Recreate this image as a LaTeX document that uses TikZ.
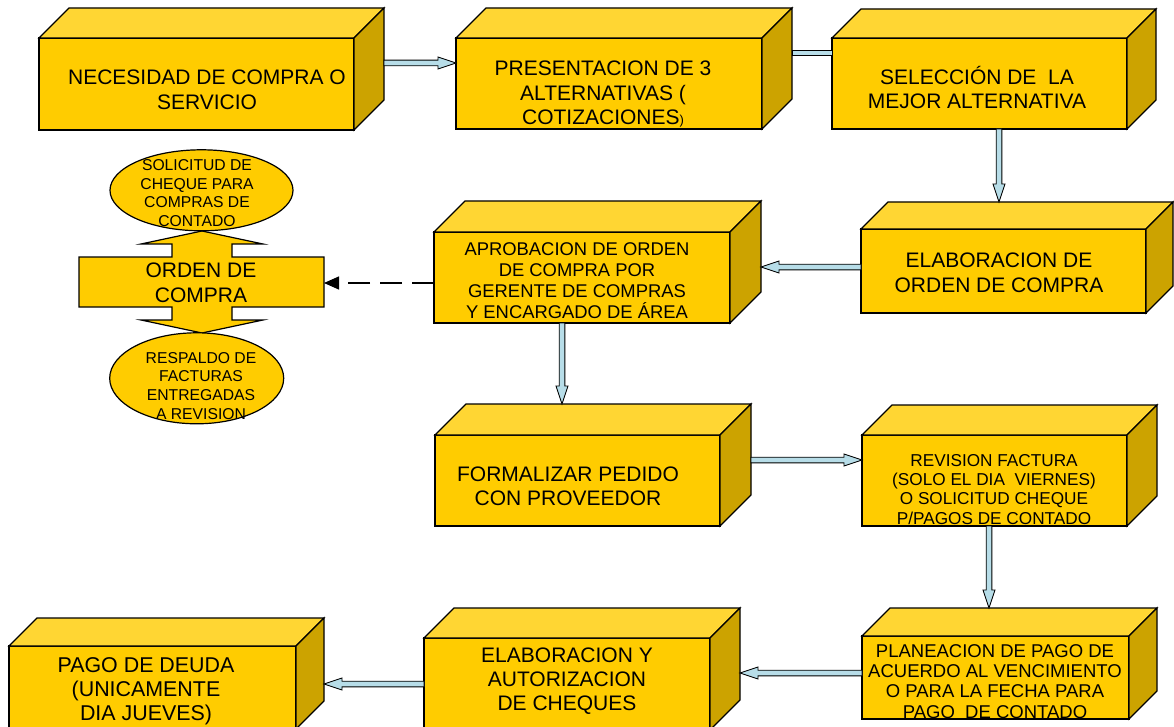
\documentclass[tikz,border=0pt]{standalone}
\usepackage{fontspec}
\setmainfont{Liberation Sans}
\usetikzlibrary{calc,arrows.meta,shapes.geometric}
\definecolor{gold}{HTML}{FFCC00}
\definecolor{goldtop}{HTML}{FFD633}
\definecolor{goldside}{HTML}{CCA300}
\definecolor{pipeblue}{HTML}{B7DDE8}
\tikzset{
  frontface/.style={draw=black, line width=1.2pt, fill=gold, inner sep=0pt, outer sep=0pt, line join=miter},
  topface/.style={draw=black, line width=1.2pt, fill=goldtop, line join=miter},
  sideface/.style={draw=black, line width=1.2pt, fill=goldside, line join=miter},
  lbl/.style={anchor=base, inner sep=0pt, outer sep=0pt},
  pipe/.style={draw=black, line width=0.9pt, fill=pipeblue, line join=miter},
  dashline/.style={draw=black, line width=1.3pt, dash pattern=on 22pt off 10pt, -{Triangle[length=15pt,width=13pt]}},
  ovalnode/.style={ellipse, draw=black, line width=1.2pt, fill=gold, inner sep=0pt, outer sep=0pt},
}
\newcommand\fs[2]{\fontsize{#1}{#2}\selectfont}
\newcommand\lns[1]{\begin{tabular}[t]{@{}c@{}}#1\end{tabular}}
% name, x1, y1, x2, y2, depth
\newcommand\drawcube[6]{%
  \node[frontface, minimum width={#4-#2}, minimum height={#5-#3}] (#1) at ({(#2+#4)/2},{(#3+#5)/2}) {};
  \filldraw[topface] (#1.north west) -- ++(#6,-#6) -- ++({#4-#2},0) -- (#1.north east) -- cycle;
  \filldraw[sideface] (#1.north east) -- ++(#6,-#6) -- ++(0,{#5-#3}) -- (#1.south east) -- cycle;
}
\newcommand\pipearrow[2]{%
  \coordinate (pa-b) at ($(#2)!18pt!(#1)$);
  \filldraw[pipe] ($(#1)!2.8pt!90:(#2)$) -- ($(pa-b)!2.8pt!90:(#2)$) -- ($(pa-b)!6pt!90:(#2)$) -- (#2)
     -- ($(pa-b)!6pt!-90:(#2)$) -- ($(pa-b)!2.8pt!-90:(#2)$) -- ($(#1)!2.8pt!-90:(#2)$) -- cycle;
}
\newcommand\pipeplain[2]{%
  \filldraw[pipe] ($(#1)!2.8pt!90:(#2)$) -- ($(#2)!2.8pt!-90:(#1)$) -- ($(#2)!2.8pt!90:(#1)$) -- ($(#1)!2.8pt!-90:(#2)$) -- cycle;
}
\begin{document}
\begin{tikzpicture}[x=1pt,y=-1pt]
\useasboundingbox[fill=white] (0,0) rectangle (1174,727);

% boxes
\drawcube{b1}{39}{38}{354}{130}{30}
\drawcube{b2}{456}{38}{762}{129}{30}
\drawcube{b3}{832}{38}{1127}{129}{29}
\drawcube{b4}{861}{229}{1146}{313}{27}
\drawcube{b5}{434}{232}{730}{323}{31}
\drawcube{b6}{435}{435}{720}{526}{31}
\drawcube{b7}{862}{435}{1127}{526}{30}
\drawcube{b8}{862}{636}{1129}{719}{28}
\drawcube{b9}{424}{638}{710}{730}{30}
\drawcube{b10}{9}{646}{296}{729}{28}

% ORDEN DE COMPRA up-down arrow shape
\filldraw[frontface] (79,257) -- (172,257) -- (172,244) -- (141,244) -- (202,231) -- (263,244) -- (232,244)
  -- (232,257) -- (324,257) -- (324,307) -- (232,307) -- (232,320) -- (263,320) -- (202,333)
  -- (141,320) -- (172,320) -- (172,307) -- (79,307) -- cycle;
\coordinate (ordE) at (324,283);

% ellipses
\node[ovalnode, minimum width=183pt, minimum height=81pt] (e1) at (201.5,190.3) {};
\node[ovalnode, minimum width=174pt, minimum height=91pt] (e2) at (196.7,378.3) {};

% connectors
\coordinate (c1s) at ($(b1.north east)+(30,25)$);
\coordinate (c1e) at ($(b2.north west)+(0,25)$);
\pipearrow{c1s}{c1e}
\coordinate (c2s) at ($(b2.north east)+(30,15)$);
\coordinate (c2e) at ($(b3.north west)+(0,15)$);
\pipeplain{c2s}{c2e}
\coordinate (c3s) at ($(b3.south west)+(167,0)$);
\coordinate (c3e) at ($(b4.north west)+(138,-27)$);
\pipearrow{c3s}{c3e}
\coordinate (c4s) at ($(b4.north west)+(0,38)$);
\coordinate (c4e) at ($(b5.north east)+(31,35)$);
\pipearrow{c4s}{c4e}
\coordinate (c5s) at ($(b5.south west)+(128,0)$);
\coordinate (c5e) at ($(b6.north west)+(127,-31)$);
\pipearrow{c5s}{c5e}
\coordinate (c6s) at ($(b6.north east)+(31,25)$);
\coordinate (c6e) at ($(b7.north west)+(0,25)$);
\pipearrow{c6s}{c6e}
\coordinate (c7s) at ($(b7.south west)+(127,0)$);
\coordinate (c7e) at ($(b8.north west)+(127,-28)$);
\pipearrow{c7s}{c7e}
\coordinate (c8s) at ($(b8.north west)+(0,37)$);
\coordinate (c8e) at ($(b9.north east)+(30,35)$);
\pipearrow{c8s}{c8e}
\coordinate (c9s) at ($(b9.north west)+(0,46)$);
\coordinate (c9e) at ($(b10.north east)+(28,38)$);
\pipearrow{c9s}{c9e}
\coordinate (dss) at ($(b5.north west)+(0,51)$);
\draw[dashline] (dss) -- (ordE);

% texts
\node[lbl, font=\fs{21}{25}] (t1) at (207,85) {\lns{NECESIDAD DE COMPRA O\\SERVICIO}};
\node[lbl, font=\fs{21}{24.5}] (t2) at (603,76) {\lns{PRESENTACION DE 3\\ALTERNATIVAS (\\COTIZACIONES{\fs{13}{13})}}};
\node[lbl, font=\fs{21}{24}] (t3) at (977,85) {\lns{SELECCIÓN DE\ \ LA\\MEJOR ALTERNATIVA}};
\node[lbl, font=\fs{21}{25}] (t4) at (999,267) {\lns{ELABORACION DE\\ORDEN DE COMPRA}};
\node[lbl, font=\fs{18.4}{21.3}] (t5) at (577,255) {\lns{APROBACION DE ORDEN\\DE COMPRA POR\\GERENTE DE COMPRAS\\\smash{Y ENCARGADO DE ÁREA}}};
\node[lbl, font=\fs{21}{24}] (t6) at (568,481) {\lns{FORMALIZAR PEDIDO\\CON PROVEEDOR}};
\node[lbl, font=\fs{17.2}{19.4}] (t7) at (994,466) {\lns{REVISION FACTURA\\(SOLO EL DIA\ \ VIERNES)\\O SOLICITUD CHEQUE\\P/PAGOS DE CONTADO}};
\node[lbl, font=\fs{18.5}{20.4}] (t8) at (995,657) {\lns{PLANEACION DE PAGO DE\\ACUERDO AL VENCIMIENTO\\O PARA LA FECHA PARA\\PAGO\ \ DE CONTADO}};
\node[lbl, font=\fs{21}{24}] (t9) at (567,662) {\lns{ELABORACION Y\\AUTORIZACION\\DE CHEQUES}};
\node[lbl, font=\fs{21.4}{24}] (t10) at (146,672) {\lns{PAGO DE DEUDA\\(UNICAMENTE\\DIA JUEVES)}};
\node[lbl, font=\fs{21}{25}] (orden) at (201,277) {\lns{ORDEN DE\\COMPRA}};
\node[lbl, font=\fs{15.7}{18.5}] (te1) at (197,171) {\lns{SOLICITUD DE\\CHEQUE PARA\\COMPRAS DE\\CONTADO}};
\node[lbl, font=\fs{15.7}{18.7}] (te2) at (201,363) {\lns{RESPALDO DE\\FACTURAS\\ENTREGADAS\\A REVISION}};
\end{tikzpicture}
\end{document}
